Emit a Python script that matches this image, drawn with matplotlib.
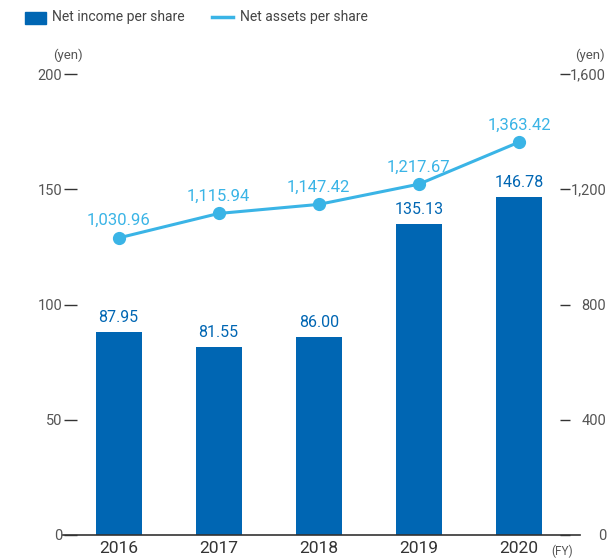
import numpy as np
import matplotlib.pyplot as plt
from matplotlib.patches import Rectangle
from matplotlib.lines import Line2D

plt.rcParams['font.family'] = ['Roboto', 'DejaVu Sans']

years = ['2016', '2017', '2018', '2019', '2020']
income = [87.95, 81.55, 86.00, 135.13, 146.78]
assets = [1030.96, 1115.94, 1147.42, 1217.67, 1363.42]

bar_color = '#0066b3'
line_color = '#3ab4e6'
tick_color = '#555555'

W, H = 608, 560
fig = plt.figure(figsize=(W / 100, H / 100), dpi=100)
ax = fig.add_axes([77 / W, 25 / H, 483 / W, 461 / H])
ax2 = ax.twinx()

x = np.arange(len(years))
ax.bar(x, income, width=0.46, color=bar_color, zorder=2)
for xi, v in zip(x, income):
    ax.annotate(f'{v:.2f}', (xi, v), xytext=(0, 5), textcoords='offset points',
                ha='center', va='bottom', fontsize=11.5, color=bar_color)

ax2.plot(x, assets, color=line_color, lw=2.2, marker='o', ms=8.5, zorder=3)
for xi, v in zip(x, assets):
    ax2.annotate(f'{v:,.2f}', (xi, v), xytext=(0, 7), textcoords='offset points',
                 ha='center', va='bottom', fontsize=12, color=line_color)

ax.set_xlim(-0.415, 4.41)
ax.set_ylim(0, 200)
ax2.set_ylim(0, 1600)
ax.set_yticks([0, 50, 100, 150, 200])
ax2.set_yticks([0, 400, 800, 1200, 1600])
ax2.set_yticklabels(['0', '400', '800', '1,200', '1,600'], ha='right')
ax.set_xticks(x)
ax.set_xticklabels(years, fontsize=12.5, color='#333333')

for a in (ax, ax2):
    for s in a.spines.values():
        s.set_visible(False)
ax.tick_params(axis='y', length=9.5, width=1, color='#333333', pad=1,
               labelsize=10.5, labelcolor=tick_color)
ax2.tick_params(axis='y', length=7.2, width=1, color='#333333', pad=26,
                labelsize=10.5, labelcolor=tick_color)
ax.tick_params(axis='x', length=0, pad=4)

# baseline runs past the tick marks on both sides
ax.axhline(0, xmin=-14 / 483, xmax=1 + 20 / 483, color='#333333', lw=1.2,
           clip_on=False, zorder=4)

fig.text(68 / W, 1 - 55 / H, '(yen)', ha='center', va='center',
         fontsize=9.5, color=tick_color)
fig.text(590 / W, 1 - 55 / H, '(yen)', ha='center', va='center',
         fontsize=9.5, color=tick_color)
fig.text(562 / W, 1 - 551 / H, '(FY)', ha='center', va='center',
         fontsize=8.5, color=tick_color)

# legend
fig.patches.append(Rectangle((25 / W, 1 - 24 / H), 21 / W, 12 / H,
                             transform=fig.transFigure, color=bar_color))
fig.text(52 / W, 1 - 17 / H, 'Net income per share', va='center',
         fontsize=10, color='#444444')
fig.lines.append(Line2D([212 / W, 233 / W], [1 - 17 / H, 1 - 17 / H],
                        transform=fig.transFigure, color=line_color, lw=2.5))
fig.text(240 / W, 1 - 17 / H, 'Net assets per share', va='center',
         fontsize=10, color='#444444')

fig.savefig('out.png', dpi=100)
